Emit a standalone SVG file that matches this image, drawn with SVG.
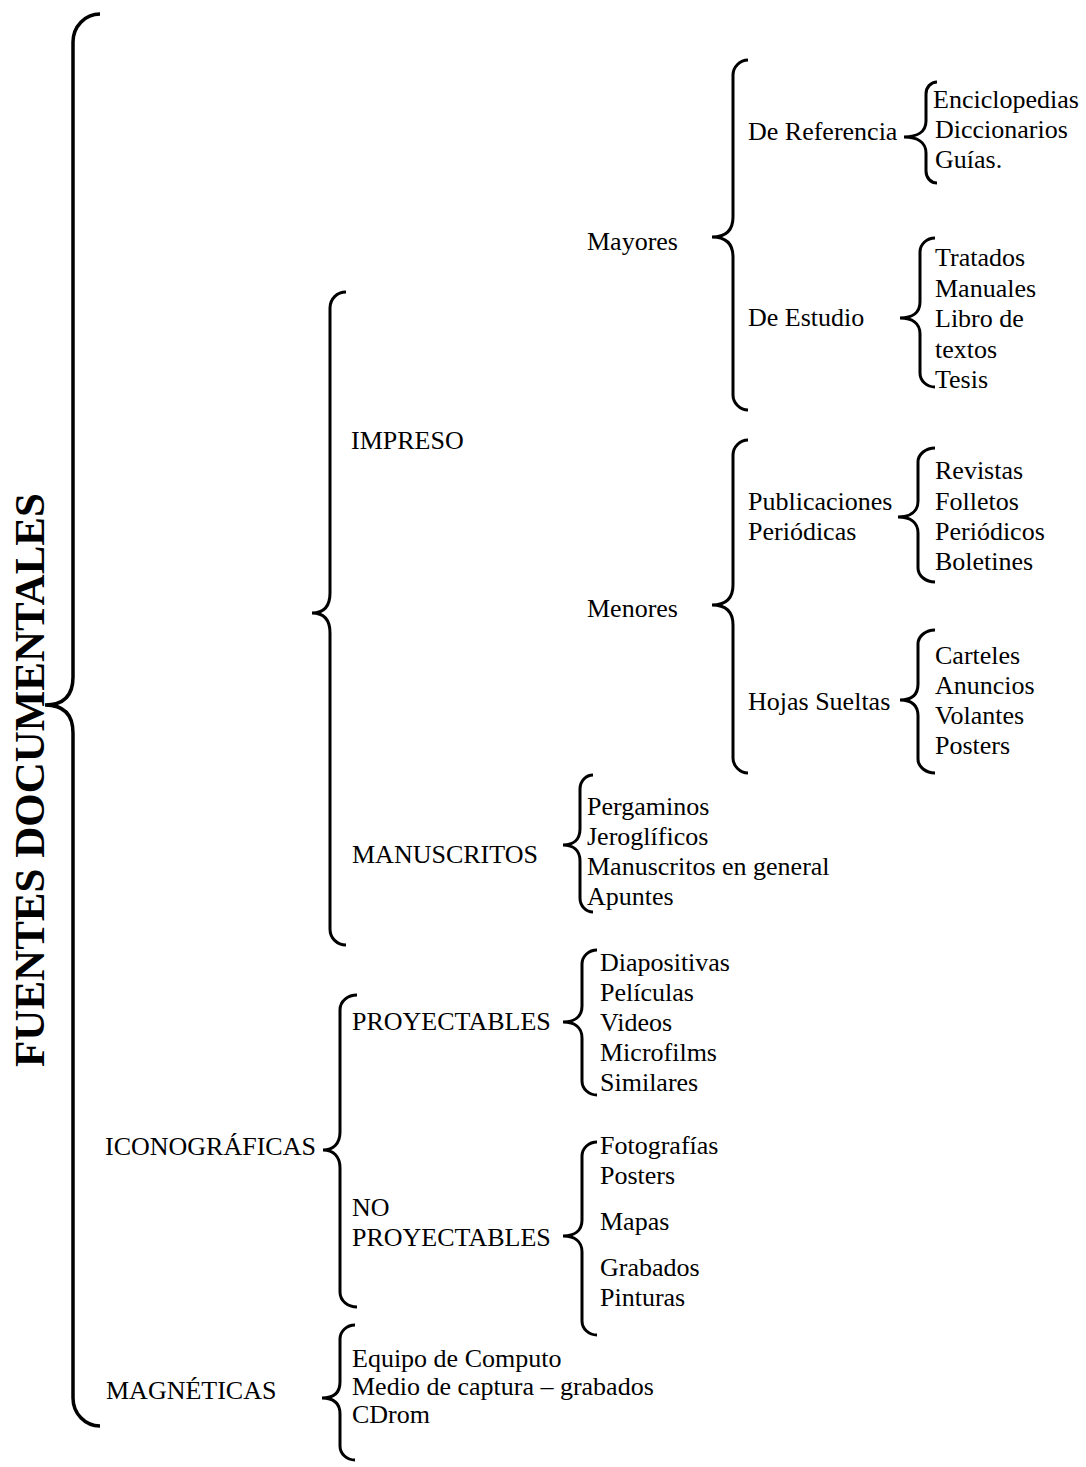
<svg xmlns="http://www.w3.org/2000/svg" width="1086" height="1467" viewBox="0 0 1086 1467">
<style>
text{font-family:"Liberation Serif","Times New Roman",serif;font-size:26px;fill:#000}
.title{font-weight:bold;font-size:43px}
.br{fill:none;stroke:#000;stroke-width:3}
.main{stroke-width:3.5}
</style>
<rect width="1086" height="1467" fill="#fff"/>
<g id="connectors">
<path class="br main" d="M100,14 C85,14 73,26.5 73,42 L73,677 C73,697 62,705 45,705 C62,705 73,713 73,733 L73,1398 C73,1413.5 85,1426 100,1426"/>
<path class="br" d="M346,292 C337,292 330,299 330,308 L330,593 C330,607 323,613 312,613 C323,613 330,619 330,633 L330,929 C330,938 337,945 346,945"/>
<path class="br" d="M748,60 C740,60 733,67 733,75 L733,217 C733,231 725,237 712,237 C725,237 733,243 733,257 L733,395 C733,403 740,410 748,410"/>
<path class="br" d="M937,82 C931,82 926,87 926,94 L926,121 C926,132 917,137 904,137 C917,137 926,142 926,153 L926,171 C926,178 931,183 937,183"/>
<path class="br" d="M935,238 C927,238 920,244 920,252 L920,302 C920,313 912,318 900,318 C912,318 920,323 920,334 L920,373 C920,381 927,387 935,387"/>
<path class="br" d="M748,440 C740,440 733,447 733,455 L733,585 C733,599 725,605 712,605 C725,605 733,611 733,625 L733,758 C733,766 740,773 748,773"/>
<path class="br" d="M935,448 C926,448 918,454 918,462 L918,501 C918,512 910,517 898,517 C910,517 918,522 918,533 L918,568 C918,576 926,582 935,582"/>
<path class="br" d="M935,630 C926,630 918,636 918,644 L918,684 C918,695 911,700 900,700 C911,700 918,705 918,716 L918,759 C918,767 926,773 935,773"/>
<path class="br" d="M593,775 C586,775 580,781 580,789 L580,829 C580,840 573,845 563,845 C573,845 580,850 580,861 L580,898 C580,906 586,912 593,912"/>
<path class="br" d="M357,995 C348,995 340,1001 340,1010 L340,1132 C340,1144 333,1150 323,1150 C333,1150 340,1156 340,1168 L340,1292 C340,1301 348,1307 357,1307"/>
<path class="br" d="M597,950 C589,950 582,956 582,964 L582,1006 C582,1017 574,1022 563,1022 C574,1022 582,1027 582,1038 L582,1081 C582,1089 589,1095 597,1095"/>
<path class="br" d="M597,1142 C589,1142 582,1148 582,1156 L582,1220 C582,1231 574,1236 563,1236 C574,1236 582,1241 582,1252 L582,1321 C582,1329 589,1335 597,1335"/>
<path class="br" d="M355,1325 C347,1325 340,1331 340,1339 L340,1382 C340,1393 333,1398 322,1398 C333,1398 340,1403 340,1414 L340,1446 C340,1454 347,1460 355,1460"/>
</g>
<g id="fuentes"><text class="title" transform="translate(44,780) rotate(-90)" text-anchor="middle">FUENTES DOCUMENTALES</text></g>
<g id="impreso"><text x="351" y="449">IMPRESO</text></g>
<g id="mayores"><text x="587" y="250">Mayores</text></g>
<g id="de-referencia"><text x="748" y="140">De Referencia</text></g>
<g id="ref-items"><text x="933" y="108">Enciclopedias</text><text x="935" y="138">Diccionarios</text><text x="935" y="168">Guías.</text></g>
<g id="de-estudio"><text x="748" y="326">De Estudio</text></g>
<g id="est-items"><text x="935" y="266">Tratados</text><text x="935" y="297">Manuales</text><text x="935" y="327">Libro de</text><text x="935" y="358">textos</text><text x="935" y="388">Tesis</text></g>
<g id="menores"><text x="587" y="617">Menores</text></g>
<g id="publicaciones"><text x="748" y="510">Publicaciones</text><text x="748" y="540">Periódicas</text></g>
<g id="pub-items"><text x="935" y="479">Revistas</text><text x="935" y="510">Folletos</text><text x="935" y="540">Periódicos</text><text x="935" y="570">Boletines</text></g>
<g id="hojas"><text x="748" y="710">Hojas Sueltas</text></g>
<g id="hojas-items"><text x="935" y="664">Carteles</text><text x="935" y="694">Anuncios</text><text x="935" y="724">Volantes</text><text x="935" y="754">Posters</text></g>
<g id="manuscritos"><text x="352" y="863">MANUSCRITOS</text></g>
<g id="man-items"><text x="587" y="815">Pergaminos</text><text x="587" y="845">Jeroglíficos</text><text x="587" y="875">Manuscritos en general</text><text x="587" y="905">Apuntes</text></g>
<g id="iconograficas"><text x="105" y="1155">ICONOGRÁFICAS</text></g>
<g id="proyectables"><text x="352" y="1030">PROYECTABLES</text></g>
<g id="proy-items"><text x="600" y="971">Diapositivas</text><text x="600" y="1001">Películas</text><text x="600" y="1031">Videos</text><text x="600" y="1061">Microfilms</text><text x="600" y="1091">Similares</text></g>
<g id="no-proyectables"><text x="352" y="1216">NO</text><text x="352" y="1246">PROYECTABLES</text></g>
<g id="noproy-items"><text x="600" y="1154">Fotografías</text><text x="600" y="1184">Posters</text><text x="600" y="1230">Mapas</text><text x="600" y="1276">Grabados</text><text x="600" y="1306">Pinturas</text></g>
<g id="magneticas"><text x="106" y="1399">MAGNÉTICAS</text></g>
<g id="mag-items"><text x="352" y="1367">Equipo de Computo</text><text x="352" y="1395">Medio de captura – grabados</text><text x="352" y="1423">CDrom</text></g>
</svg>
